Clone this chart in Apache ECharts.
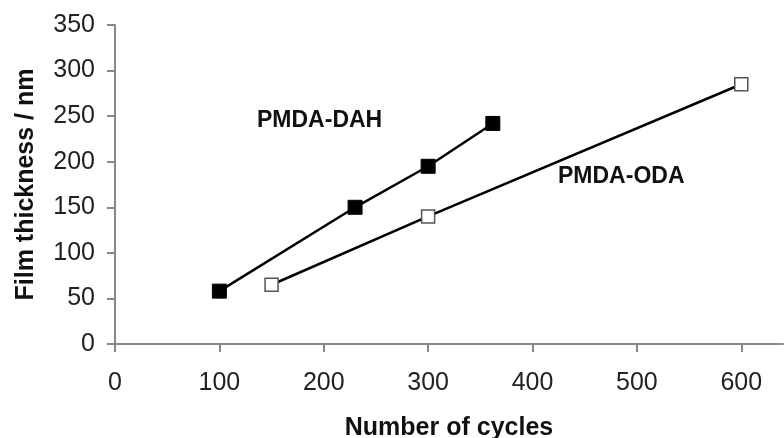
<!DOCTYPE html>
<html>
<head>
<meta charset="utf-8">
<script src="https://cdn.jsdelivr.net/npm/echarts@6/dist/echarts.min.js"></script>
<style>
  html, body { margin: 0; padding: 0; background: #fff; }
  #chart { width: 784px; height: 438px; }
</style>
</head>
<body>
<div id="chart"></div>
<script>
// PMDA-DAH (filled squares)
const dahCycles = [100, 230, 300, 362];
const dahThickness = [58, 150, 195, 242];
// PMDA-ODA (open squares)
const odaCycles = [150, 300, 600];
const odaThickness = [65, 140, 285];

const xTicks = [0, 100, 200, 300, 400, 500, 600];
const yTicks = [0, 50, 100, 150, 200, 250, 300, 350];

const font = '"Liberation Sans", Arial, sans-serif';

function pairs(xs, ys) {
  return xs.map((x, i) => [x, ys[i]]);
}

const chart = echarts.init(document.getElementById('chart'));

chart.setOption({
  animation: false,
  grid: { left: 115, top: 25, right: 1, bottom: 94, containLabel: false, outerBoundsMode: 'none' },
  xAxis: {
    type: 'value',
    min: 0,
    max: 640,
    interval: 100,
    name: 'Number of cycles',
    nameLocation: 'middle',
    nameGap: 72,
    nameTextStyle: { fontFamily: font, fontWeight: 'bold', fontSize: 25, color: '#111' },
    axisLine: { lineStyle: { color: '#888', width: 2 } },
    axisTick: { customValues: xTicks, length: 8, lineStyle: { color: '#888', width: 2 } },
    axisLabel: {
      customValues: xTicks,
      margin: 27,
      fontFamily: font, fontSize: 25, color: '#222'
    },
    splitLine: { show: false }
  },
  yAxis: {
    type: 'value',
    min: 0,
    max: 350,
    interval: 50,
    name: 'Film thickness / nm',
    nameLocation: 'middle',
    nameGap: 76,
    nameTextStyle: { fontFamily: font, fontWeight: 'bold', fontSize: 25, color: '#111' },
    axisLine: { show: true, lineStyle: { color: '#888', width: 2 } },
    axisTick: { show: true, length: 8, lineStyle: { color: '#888', width: 2 } },
    axisLabel: {
      customValues: yTicks,
      margin: 20,
      fontFamily: font, fontSize: 25, color: '#222'
    },
    splitLine: { show: false }
  },
  graphic: [
    {
      type: 'text', left: 257, top: 109,
      style: { text: 'PMDA-DAH', fontFamily: font, fontWeight: 'bold', fontSize: 23, fill: '#111' }
    },
    {
      type: 'text', left: 558, top: 165,
      style: { text: 'PMDA-ODA', fontFamily: font, fontWeight: 'bold', fontSize: 23, fill: '#111' }
    }
  ],
  series: [
    {
      name: 'PMDA-DAH',
      type: 'line',
      data: pairs(dahCycles, dahThickness),
      symbol: 'rect',
      symbolSize: 14,
      lineStyle: { color: '#000', width: 2.5 },
      itemStyle: { color: '#000', borderColor: '#000', borderWidth: 1 }
    },
    {
      name: 'PMDA-ODA',
      type: 'line',
      data: pairs(odaCycles, odaThickness),
      symbol: 'rect',
      symbolSize: 13,
      lineStyle: { color: '#000', width: 2.5 },
      itemStyle: { color: '#fff', borderColor: '#555', borderWidth: 1.5 }
    }
  ]
});
</script>
</body>
</html>
